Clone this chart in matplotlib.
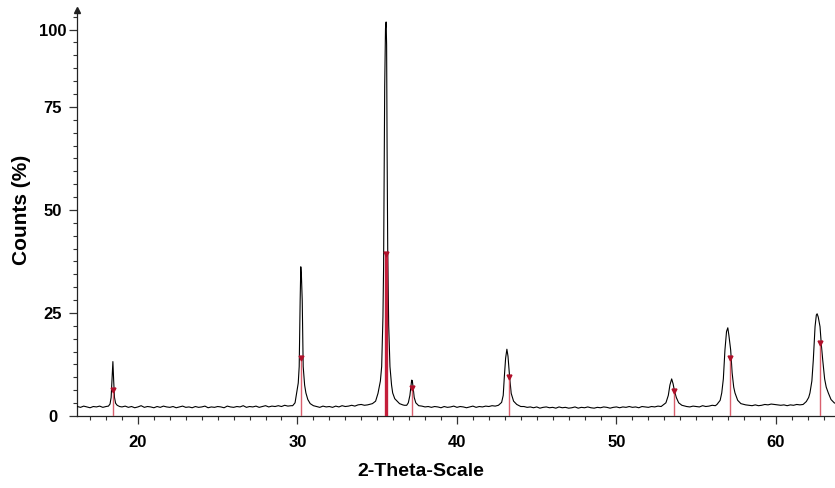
import numpy as np
import matplotlib
matplotlib.use("Agg")
import matplotlib.pyplot as plt
from matplotlib.ticker import MultipleLocator, FixedLocator

plt.rcParams['font.family'] = ['Liberation Sans', 'DejaVu Sans']

# ---- measured pattern (2-theta in degrees, intensity in axis units) ----
# background segments: start, step, values
bg_a_start, bg_a_y = 16.2, [2.3, 2.1, 2.4, 2.2, 2.0, 2.3, 2.2, 2.4, 2.1, 2.3]
bg_b_start, bg_b_y = 19.0, [2.2, 2.4, 2.1, 2.3, 2.0, 2.2, 2.5, 2.1, 2.3, 2.2,
                            2.0, 2.3, 2.1, 2.4, 2.2, 2.1, 2.3, 2.0, 2.2, 2.4,
                            2.1, 2.2, 2.0, 2.3, 2.1, 2.2, 2.4, 2.0, 2.2, 2.1,
                            2.3, 2.2, 2.0, 2.4, 2.2, 2.1, 2.3, 2.2, 2.5, 2.1,
                            2.3, 2.2, 2.4, 2.1, 2.3, 2.5, 2.2, 2.4, 2.3, 2.5,
                            2.3, 2.6, 2.4, 2.5]
bg_c_start, bg_c_y = 31.2, [2.3, 2.1, 2.4, 2.2, 2.3, 2.1, 2.4, 2.2, 2.5, 2.3,
                            2.4, 2.6, 2.4, 2.7, 2.8, 2.6, 2.7, 2.9]
bg_d_start, bg_d_y = 37.8, [2.4, 2.2, 2.3, 2.1, 2.3, 2.2, 2.0, 2.3, 2.1, 2.2,
                            2.4, 2.1, 2.3, 2.2, 2.0, 2.2, 2.4, 2.1, 2.3, 2.2,
                            2.4, 2.3, 2.5, 2.4]
bg_e_start, bg_e_y = 44.2, [2.3, 2.1, 2.2, 2.0, 2.2, 1.9, 2.1, 2.2, 2.0, 2.1,
                            1.9, 2.2, 2.0, 2.1, 1.9, 2.0, 2.2, 1.9, 2.1, 2.0,
                            2.2, 2.0, 1.9, 2.1, 2.0, 2.2, 2.1, 1.9, 2.1, 2.2,
                            2.0, 2.2, 2.1, 2.3, 2.1, 2.2, 2.0, 2.3, 2.2, 2.1,
                            2.3, 2.2, 2.4, 2.3]
bg_f_start, bg_f_y = 54.6, [2.2, 2.4, 2.3, 2.2, 2.5, 2.3, 2.4, 2.6, 2.5]
bg_g_start, bg_g_y = 58.3, [2.6, 2.5, 2.7, 2.5, 2.6, 2.8, 2.7, 2.9, 2.8, 2.7,
                            2.6, 2.7, 2.5, 2.7, 2.6, 2.8, 2.7]
bg_step = 0.2

# peak profiles
pk1_x = [18.15, 18.25, 18.32, 18.38, 18.43, 18.48, 18.53, 18.60, 18.70, 18.85]
pk1_y = [2.4, 2.9, 4.5, 9.0, 13.2, 8.5, 4.5, 3.1, 2.6, 2.3]
pk2_x = [29.70, 29.85, 29.95, 30.05, 30.11, 30.17, 30.21, 30.25, 30.30, 30.36,
         30.45, 30.53, 30.65, 30.80, 31.00]
pk2_y = [2.5, 3.2, 5.6, 8.0, 12.0, 28.0, 36.2, 34.0, 28.0, 12.0,
         7.5, 5.6, 4.0, 3.0, 2.5]
pk3_x = [34.70, 34.90, 35.05, 35.20, 35.28, 35.36, 35.40, 35.44, 35.47, 35.52,
         35.56, 35.59, 35.62, 35.66, 35.72, 35.80, 35.90, 35.97, 36.10, 36.20,
         36.40, 36.60, 36.70]
pk3_y = [3.0, 3.6, 5.5, 8.5, 12.0, 24.0, 36.0, 60.0, 80.0, 94.0,
         95.6, 90.0, 65.0, 40.0, 22.0, 12.0, 7.5, 5.6, 4.2, 3.8,
         3.0, 2.7, 2.6]
pk4_x = [36.85, 36.95, 37.05, 37.12, 37.16, 37.20, 37.25, 37.32, 37.42, 37.60]
pk4_y = [2.6, 3.2, 5.0, 7.5, 8.7, 8.6, 7.0, 4.5, 3.2, 2.5]
pk5_x = [42.60, 42.80, 42.90, 42.97, 43.05, 43.13, 43.20, 43.30, 43.40, 43.55,
         43.75, 44.00]
pk5_y = [2.6, 3.3, 5.0, 9.5, 14.0, 16.2, 14.5, 9.5, 5.5, 3.6, 2.8, 2.3]
pk6_x = [52.90, 53.10, 53.25, 53.35, 53.46, 53.55, 53.63, 53.75, 53.90, 54.10,
         54.40]
pk6_y = [2.6, 3.2, 5.0, 7.5, 9.0, 7.8, 6.2, 4.5, 3.2, 2.6, 2.3]
pk7_x = [56.30, 56.50, 56.60, 56.70, 56.80, 56.90, 56.98, 57.05, 57.16, 57.25,
         57.35, 57.43, 57.60, 57.80, 58.10]
pk7_y = [2.8, 3.8, 5.6, 9.0, 16.0, 20.5, 21.4, 19.5, 16.0, 10.5,
         7.0, 5.6, 3.8, 3.0, 2.7]
pk8_x = [61.70, 61.90, 62.05, 62.13, 62.25, 62.34, 62.45, 62.53, 62.58, 62.65,
         62.76, 62.85, 62.93, 63.05, 63.15, 63.28, 63.45, 63.65, 63.75]
pk8_y = [2.8, 3.5, 4.5, 5.6, 8.5, 13.6, 21.7, 24.5, 24.8, 24.0,
         21.7, 17.0, 13.6, 9.0, 7.0, 5.6, 4.0, 3.2, 3.0]

# reference (stick) pattern
ref_pos = [18.43, 30.25, 35.58, 37.20, 43.26, 53.60, 57.10, 62.76]
ref_int = [6.3, 14.1, 39.3, 6.7, 9.5, 6.1, 14.1, 17.7]

# axis ticks
x_major = [20, 30, 40, 50, 60]
y_major_pos = [0, 25, 50, 75, 93.75]
y_major_lbl = ['0', '25', '50', '75', '100']


def bg(start, vals):
    xs = np.round(start + bg_step * np.arange(len(vals)), 3)
    return list(xs), list(vals)


segments = [bg(bg_a_start, bg_a_y), (pk1_x, pk1_y), bg(bg_b_start, bg_b_y),
            (pk2_x, pk2_y), bg(bg_c_start, bg_c_y), (pk3_x, pk3_y),
            (pk4_x, pk4_y), bg(bg_d_start, bg_d_y), (pk5_x, pk5_y),
            bg(bg_e_start, bg_e_y), (pk6_x, pk6_y), bg(bg_f_start, bg_f_y),
            (pk7_x, pk7_y), bg(bg_g_start, bg_g_y), (pk8_x, pk8_y)]
two_theta = np.concatenate([np.asarray(s[0], float) for s in segments])
counts = np.concatenate([np.asarray(s[1], float) for s in segments])
order = np.argsort(two_theta, kind='stable')
two_theta, counts = two_theta[order], counts[order]

fig = plt.figure(figsize=(8.35, 4.88), dpi=100)
ax = fig.add_axes([77 / 835, 72 / 488, 758 / 835, 406 / 488])

ax.plot(two_theta, counts, color='black', lw=0.8, zorder=3)

for p, h in zip(ref_pos, ref_int):
    main = h == max(ref_int)
    ax.vlines(p, 0, h, color='#c41e3a' if main else '#d9606e',
              lw=2.4 if main else 1.0, zorder=4)
ax.plot(ref_pos, ref_int, linestyle='none', marker='v', ms=3.5,
        color='#b0102a', zorder=5)

ax.set_xlim(16.18, 63.7)
ax.set_ylim(0, 98.5)

for s in ('top', 'right'):
    ax.spines[s].set_visible(False)
for s in ('left', 'bottom'):
    ax.spines[s].set_linewidth(0.9)
    ax.spines[s].set_color('#222222')

ax.xaxis.set_major_locator(FixedLocator(x_major))
ax.xaxis.set_minor_locator(MultipleLocator(1))
ax.yaxis.set_major_locator(FixedLocator(y_major_pos))
ax.set_yticklabels(y_major_lbl)
ax.yaxis.set_minor_locator(MultipleLocator(3.125))

ax.tick_params(axis='both', which='major', direction='out', length=5.5,
               width=0.9, color='#333333', labelsize=12)
ax.tick_params(axis='both', which='minor', direction='out', length=3,
               width=0.8, color='#333333')
ax.tick_params(axis='x', which='major', pad=8)
ax.tick_params(axis='y', which='major', pad=12)
for lbl in ax.get_yticklabels():
    lbl.set_ha('center')
    lbl.set_fontweight('bold')
for lbl in ax.get_xticklabels():
    lbl.set_fontweight('bold')

# arrow at top of y axis
ax.plot([0], [1], marker='^', ms=4, color='#222222',
        transform=ax.transAxes, clip_on=False, zorder=6)

fig.text(421 / 835, 1 - 471 / 488, '2-Theta-Scale', ha='center', va='center',
         fontsize=14, fontweight='bold')
fig.text(22 / 835, 1 - 210 / 488, 'Counts (%)', ha='center', va='center',
         rotation=90, fontsize=15, fontweight='bold')

fig.savefig('out.png', dpi=100)
